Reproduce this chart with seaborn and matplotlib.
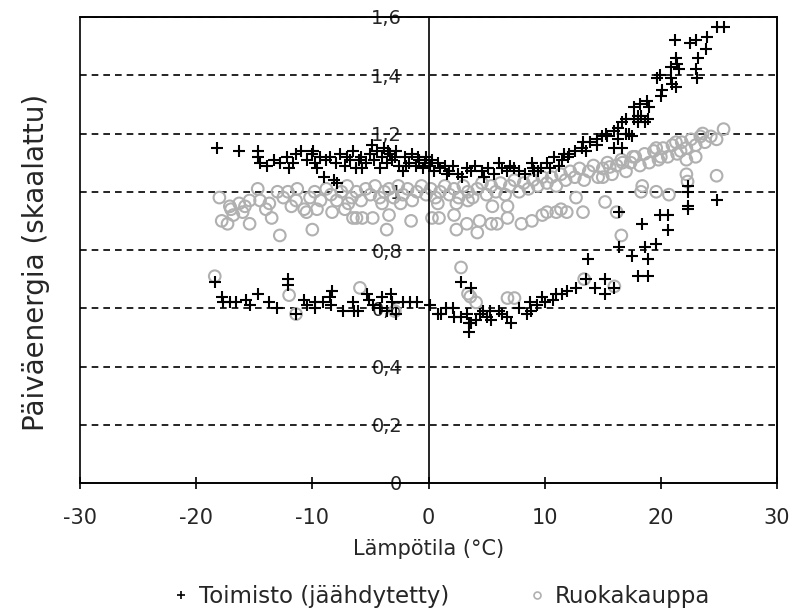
import matplotlib
matplotlib.use("Agg")
import matplotlib.pyplot as plt
import seaborn as sns
import pandas as pd
from matplotlib.ticker import FuncFormatter
from matplotlib.lines import Line2D
from matplotlib.patches import Rectangle

# ---------------- data ----------------
office_x = [
    -18.2, -16.3, -14.7, -14.7, -14.5, -13.9, -12.8, -12.2, -12.0, -11.4, -11.0, -11.7, -10.0, -9.8, -9.6,
    -9.0, -8.1, -8.5, -8.0, -7.6, -7.2, -6.8, -6.5, -6.2, -5.8, -5.7, -5.4, -5.0, -4.7, -4.4, -4.2, -4.0,
    -3.8, -3.6, -3.3, -3.1, -2.8, -2.5, -2.2, -2.0, -1.7, -1.4, -1.1, -0.8, -0.5, -0.3, -9.3, -10.5, -7.9,
    -13.3, -4.9, -3.5, -2.9, -6.0, -7.0, -8.8, -9.9, -1.9, -0.9,
    -0.2, 0.3, 0.8, 1.4, 0.5, 1.8, 2.5, 3.7, 4.0, 4.6, 5.1, 6.1, 6.3, 6.8, 7.4, 7.8, 8.9, 9.0, 9.7, 4.8,
    1.0, 2.1, 2.9, 3.3, 5.6, 7.0, 8.3, 9.4, 0.1, 1.6,
    9.1, 10.2, 10.8, 11.2, 11.7, 12.1, 12.0, 12.6, 13.2, 13.3, 13.9, 14.5, 14.5, 14.9, 15.4, 16.0, 16.3,
    16.7, 17.0, 17.5, 18.0, 17.7, 16.7, 18.3, 18.6, 16.3, 15.3, 16.0, 17.3, 17.0, 17.7, 18.8, 19.0, 18.0,
    18.9, 19.7, 19.9, 20.9, 21.0, 21.3, 20.1, 20.0, 21.3, 21.4, 20.9, 21.6, 23.0, 23.1, 21.2, 22.5, 23.0,
    24.0, 23.9, 23.2, 24.8, 25.4, 18.2, 13.6, 11.5, 10.5,
    -18.4, -17.8, -17.7, -17.1, -16.6, -15.7, -15.4, -14.7, -13.7, -13.0, -12.1, -12.1, -11.4, -10.7,
    -10.5, -9.8, -9.8, -9.1, -8.5, -8.3, -8.4, -7.4, -6.5, -6.4, -6.1, -5.3, -5.1, -4.8, -4.2, -4.0, -3.6,
    -3.2, -3.1, -2.2, -1.6, -1.0, -2.8,
    0.1, 0.8, 1.1, 1.5, 2.1, 2.2, 2.8, 3.3, 3.5, 3.5, 3.7, 4.4, 4.7, 5.3, 5.4, 6.1, 6.3, 6.8, 7.1, 7.8,
    8.5, 8.7, 8.8, 9.8, 10.0, 10.7, 11.0, 11.5, 11.9, 12.7, 13.6, 14.3, 15.2, 15.2, 16.0, 2.8, 3.7, 13.7,
    16.4, 17.5, 18.6, 18.9, 19.6, 18.0, 18.9, 16.4, 18.4, 19.9, 20.6, 20.6, 22.3, 22.3, 22.3, 22.3, 24.8,
    4.1, 5.0, 9.3,
]
office_y = [
    1.15, 1.14, 1.14, 1.12, 1.10, 1.09, 1.10, 1.12, 1.08, 1.13, 1.14, 1.10, 1.13, 1.10, 1.08,
    1.05, 1.04, 1.12, 1.10, 1.13, 1.09, 1.11, 1.14, 1.08, 1.12, 1.08, 1.10, 1.13, 1.11, 1.14, 1.08, 1.12,
    1.15, 1.10, 1.13, 1.11, 1.14, 1.09, 1.07, 1.12, 1.10, 1.13, 1.09, 1.11, 1.08, 1.10, 1.12, 1.11, 1.03,
    1.11, 1.16, 1.14, 1.12, 1.11, 1.12, 1.11, 1.14, 1.09, 1.12,
    1.12, 1.11, 1.10, 1.09, 1.07, 1.07, 1.06, 1.07, 1.09, 1.07, 1.08, 1.10, 1.08, 1.07, 1.08, 1.07, 1.10,
    1.08, 1.08, 1.05, 1.08, 1.09, 1.05, 1.08, 1.06, 1.09, 1.06, 1.07, 1.09, 1.06,
    1.07, 1.10, 1.12, 1.09, 1.13, 1.13, 1.12, 1.14, 1.15, 1.17, 1.17, 1.16, 1.18, 1.19, 1.19, 1.21, 1.18,
    1.15, 1.20, 1.19, 1.24, 1.25, 1.24, 1.26, 1.24, 1.22, 1.20, 1.15, 1.20, 1.25, 1.29, 1.31, 1.29, 1.26,
    1.25, 1.39, 1.40, 1.39, 1.37, 1.36, 1.35, 1.33, 1.46, 1.44, 1.43, 1.42, 1.42, 1.39, 1.52, 1.51, 1.52,
    1.53, 1.49, 1.46, 1.566, 1.566, 1.30, 1.14, 1.11, 1.08,
    0.69, 0.64, 0.62, 0.62, 0.62, 0.63, 0.61, 0.65, 0.62, 0.60, 0.70, 0.68, 0.58, 0.63,
    0.61, 0.62, 0.60, 0.62, 0.64, 0.66, 0.61, 0.59, 0.62, 0.59, 0.59, 0.65, 0.63, 0.61, 0.60, 0.64, 0.59,
    0.65, 0.62, 0.62, 0.62, 0.62, 0.58,
    0.61, 0.58, 0.58, 0.60, 0.60, 0.57, 0.57, 0.58, 0.55, 0.52, 0.55, 0.58, 0.59, 0.59, 0.56, 0.59, 0.58,
    0.57, 0.55, 0.60, 0.58, 0.62, 0.59, 0.64, 0.62, 0.63, 0.65, 0.65, 0.66, 0.67, 0.70, 0.67, 0.70, 0.65,
    0.67, 0.69, 0.67, 0.77,
    0.81, 0.78, 0.81, 0.77, 0.82, 0.71, 0.71, 0.93, 0.89, 0.92, 0.92, 0.87, 0.94, 0.95, 1.00, 1.02, 0.97,
    0.56, 0.57, 0.61,
]

grocery_x = [
    -18.0, -17.1, -17.0, -16.3, -15.4, -14.7, -14.5, -13.7, -13.0, -12.1, -11.3, -11.4, -10.7, -9.8, -10.2,
    -9.3, -8.8, -8.4, -7.9, -7.5, -7.0, -6.6, -6.2, -5.8, -5.4, -5.0, -4.6, -4.2, -3.8, -3.4, -3.0, -2.6,
    -2.2, -1.8, -1.4, -1.0, -0.6, -0.2, 0.2, 0.6, 1.0, 1.4, 1.8, 2.2, 2.6, 3.0, 3.4, 3.8, 4.2, 4.6, 5.0,
    5.4, 5.8, 6.2, 6.6, 7.0, 7.4, 7.8, 8.2, 8.6, 9.0, 9.4, 9.8,
    -6.9, -4.0, -2.4, 0.8, 2.4, 3.4, 5.5, 6.8, -12.5, -15.8, -16.8,
    10.2, 10.6, 11.0, 11.4, 11.8, 12.2, 12.7, 12.6, 13.0, 13.4, 13.8, 14.2, 14.6, 15.0, 15.4, 15.8, 16.2,
    16.6, 17.0, 17.4, 17.8, 18.2, 18.6, 19.0, 19.4, 19.8, 20.2, 20.6, 21.0, 21.4, 21.8, 22.2, 22.6, 23.0,
    23.4, 23.8, 24.3, 24.8, 25.4, 23.6, 21.7, 20.0, 15.6, 16.7, 17.6, 19.6, 21.3, 22.2, 23.0,
    -17.8, -17.3, -15.4, -13.5, -12.8, -10.0, -10.5, -9.6, -8.3, -6.5, -6.2, -5.7, -4.8, -3.4, -3.6,
    -1.5, 0.3, 0.9, 2.2, 2.4, 3.3, 4.2, 4.4, 5.4, 5.9, 8.0, 8.9, 9.8, 10.2, 11.0, 11.4, 11.9, 13.3, 16.2,
    16.6, 15.2, 18.3, 19.6, 20.7, 22.2, 22.3, 24.8, -16.0, -14.0, -11.8, -7.2, 6.8, 18.4, 15.0,
    -18.4, -12.0, -11.4, -5.9, -2.9, 2.8, 3.4, 3.6, 4.1, 6.8, 7.4, 13.4, 16.0,
]
grocery_y = [
    0.98, 0.95, 0.94, 0.96, 0.97, 1.01, 0.97, 0.96, 1.00, 1.00, 1.01, 0.97, 0.94, 1.00, 0.98,
    0.97, 1.01, 0.99, 0.97, 1.00, 1.02, 0.98, 1.00, 0.97, 1.01, 0.99, 1.02, 0.98, 1.00, 1.01, 0.98, 1.02,
    0.99, 1.01, 0.97, 1.00, 1.02, 0.99, 1.01, 0.98, 1.00, 1.02, 0.99, 1.01, 0.98, 1.02, 1.00, 0.98, 1.01,
    1.03, 0.99, 1.02, 1.00, 1.03, 0.99, 1.02, 1.04, 1.00, 1.03, 1.01, 1.04, 1.02, 1.05,
    0.96, 0.96, 0.96, 0.96, 0.96, 0.97, 0.95, 0.95, 0.98, 0.95, 0.92,
    1.03, 1.05, 1.02, 1.06, 1.04, 1.07, 0.98, 1.05, 1.08, 1.04, 1.07, 1.09, 1.05, 1.08, 1.10, 1.06, 1.09,
    1.11, 1.07, 1.10, 1.12, 1.09, 1.13, 1.10, 1.14, 1.11, 1.15, 1.12, 1.16, 1.13, 1.17, 1.15, 1.18, 1.16,
    1.19, 1.17, 1.19, 1.18, 1.215, 1.20, 1.14, 1.12, 1.085, 1.10, 1.12, 1.15, 1.17, 1.11, 1.12,
    0.90, 0.89, 0.89, 0.91, 0.85, 0.87, 0.93, 0.94, 0.93, 0.91, 0.91, 0.91, 0.91, 0.92, 0.87,
    0.90, 0.91, 0.91, 0.92, 0.87, 0.89, 0.86, 0.90, 0.89, 0.89, 0.89, 0.90, 0.92, 0.93, 0.93, 0.94, 0.93,
    0.93, 0.93, 0.85, 0.965, 1.00, 1.00, 0.99, 1.06, 1.035, 1.055, 0.93, 0.94, 0.95, 0.94, 0.91, 1.02, 1.05,
    0.71, 0.645, 0.58, 0.67, 0.59, 0.74, 0.65, 0.64, 0.62, 0.635, 0.635, 0.70, 0.675,
]

x_ticks = [-30, -20, -10, 0, 10, 20, 30]
y_ticks = [0, 0.2, 0.4, 0.6, 0.8, 1.0, 1.2, 1.4, 1.6]
series_names = ["Toimisto (jäähdytetty)", "Ruokakauppa"]
x_label = "Lämpötila (°C)"
y_label = "Päiväenergia (skaalattu)"

office = pd.DataFrame({"x": office_x, "y": office_y})
grocery = pd.DataFrame({"x": grocery_x, "y": grocery_y})

# ---------------- plot ----------------
sns.set_theme(style="white")
plt.rcParams["font.family"] = ["DejaVu Sans"]

GRAY = "#b0b0b0"
fig = plt.figure(figsize=(7.93, 6.15), dpi=100)
ax = fig.add_axes([80 / 793, 1 - 483 / 615, 697 / 793, 466 / 615])

for yv in y_ticks[1:]:
    ax.axhline(yv, color="black", linestyle=(0, (4, 3)), linewidth=1.2, zorder=1)

sns.scatterplot(data=grocery, x="x", y="y", marker="o", s=70, color=GRAY,
                linewidth=1.5, ax=ax, legend=False, zorder=2)
ax.collections[-1].set_facecolor("none")
ax.collections[-1].set_edgecolor(GRAY)

sns.scatterplot(data=office, x="x", y="y", marker="+", s=80, color="black",
                linewidth=1.5, ax=ax, legend=False, zorder=3)

ax.set_xlim(-30, 30)
ax.set_ylim(0, 1.6)
ax.set_xticks(x_ticks)
ax.set_yticks(y_ticks)
ax.yaxis.set_major_formatter(FuncFormatter(lambda v, p: ("%g" % round(v, 2)).replace(".", ",")))
ax.xaxis.set_major_formatter(FuncFormatter(lambda v, p: "%d" % v))

for s in ["top", "right", "bottom"]:
    ax.spines[s].set_color("black")
    ax.spines[s].set_linewidth(1.2)
ax.spines["left"].set_position(("data", 0))
ax.spines["left"].set_color("black")
ax.spines["left"].set_linewidth(1.2)
ax.add_patch(Rectangle((0, 0), 1, 1, transform=ax.transAxes, fill=False,
                       edgecolor="black", linewidth=1.2, clip_on=False, zorder=5))

ax.tick_params(axis="x", direction="inout", length=8, width=1.2, color="black",
               labelsize=15, pad=14, bottom=True)
ax.tick_params(axis="y", length=0, labelsize=14, pad=19, left=True)

ax.set_xlabel(x_label, fontsize=15, labelpad=8)
ax.set_ylabel("")
fig.text(0.045, 1 - 262 / 615, y_label, rotation=90, fontsize=20,
         ha="center", va="center")

handles = [
    Line2D([], [], marker="+", linestyle="none", color="black", markersize=6, markeredgewidth=1.2),
    Line2D([], [], marker="o", linestyle="none", markerfacecolor="none",
           markeredgecolor=GRAY, markersize=5, markeredgewidth=1.2),
]
fig.legend(handles, series_names, loc="center", bbox_to_anchor=(0.555, 1 - 597 / 615),
           ncol=2, frameon=False, fontsize=16.5, handletextpad=0.3, columnspacing=3.3,
           handlelength=1.0)

fig.savefig("out.png", dpi=100)
